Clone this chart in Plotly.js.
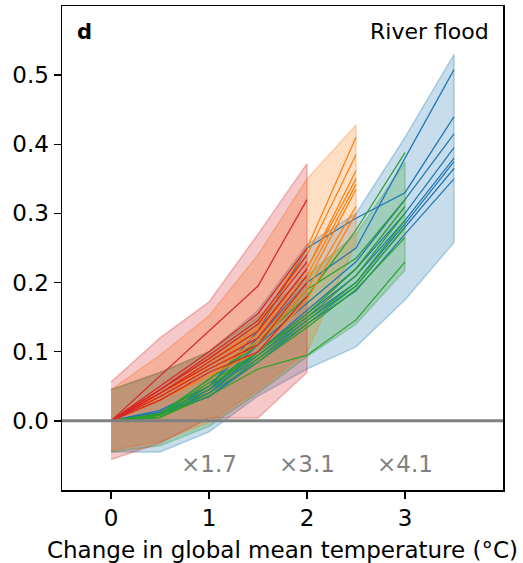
<!DOCTYPE html>
<html>
<head>
<meta charset="utf-8">
<script src="https://cdn.plot.ly/plotly-3.0.1.min.js"></script>
<style>html,body{margin:0;padding:0;background:#fff;}</style>
</head>
<body>
<div id="chart" style="width:523px;height:563px;"></div>
<script>
// ---- data ----
const xRed    = [0, 0.5, 1, 1.5, 2];
const xOrange = [0, 0.5, 1, 1.5, 2, 2.5];
const xGreen  = [0, 0.5, 1, 1.5, 2, 2.5, 3];
const xBlue   = [0, 0.5, 1, 1.5, 2, 2.5, 3, 3.5];

const redUpper    = [0.056, 0.12, 0.172, 0.27, 0.372];
const redLower    = [-0.056, -0.032, 0.004, 0.004, 0.07];
const orangeUpper = [0.045, 0.095, 0.152, 0.24, 0.35, 0.428];
const orangeLower = [-0.043, -0.03, -0.002, 0.045, 0.1, 0.258];
const greenUpper  = [0.045, 0.07, 0.1, 0.15, 0.21, 0.27, 0.374];
const greenLower  = [-0.045, -0.036, -0.008, 0.04, 0.093, 0.14, 0.218];
const blueUpper   = [0.045, 0.07, 0.1, 0.16, 0.255, 0.30, 0.41, 0.53];
const blueLower   = [-0.045, -0.045, -0.016, 0.036, 0.075, 0.107, 0.175, 0.258];

const redLines = [
  [0, 0.065, 0.13, 0.195, 0.32],
  [0, 0.05, 0.1, 0.155, 0.25],
  [0, 0.045, 0.095, 0.145, 0.24],
  [0, 0.045, 0.09, 0.14, 0.23],
  [0, 0.04, 0.085, 0.13, 0.22],
  [0, 0.04, 0.08, 0.12, 0.21],
  [0, 0.035, 0.075, 0.11, 0.2],
  [0, 0.03, 0.07, 0.1, 0.18]
];
const orangeLines = [
  [0, 0.045, 0.09, 0.14, 0.25, 0.41],
  [0, 0.04, 0.085, 0.135, 0.24, 0.385],
  [0, 0.04, 0.085, 0.13, 0.22, 0.362],
  [0, 0.04, 0.08, 0.125, 0.22, 0.35],
  [0, 0.035, 0.08, 0.12, 0.21, 0.342],
  [0, 0.035, 0.075, 0.115, 0.2, 0.335],
  [0, 0.03, 0.07, 0.11, 0.19, 0.31],
  [0, 0.03, 0.065, 0.1, 0.175, 0.3]
];
const greenLines = [
  [0, 0.01, 0.06, 0.115, 0.18, 0.276, 0.388],
  [0, 0.01, 0.06, 0.11, 0.19, 0.235, 0.32],
  [0, 0.01, 0.055, 0.1, 0.155, 0.22, 0.31],
  [0, 0.008, 0.05, 0.1, 0.15, 0.21, 0.3],
  [0, 0.008, 0.05, 0.095, 0.145, 0.2, 0.29],
  [0, 0.005, 0.045, 0.09, 0.14, 0.195, 0.28],
  [0, 0.005, 0.04, 0.085, 0.135, 0.19, 0.265],
  [0, 0.005, 0.036, 0.075, 0.095, 0.146, 0.23]
];
const blueLines = [
  [0, 0.015, 0.05, 0.12, 0.2, 0.25, 0.38, 0.508],
  [0, 0.015, 0.05, 0.13, 0.25, 0.293, 0.33, 0.44],
  [0, 0.012, 0.045, 0.11, 0.17, 0.23, 0.32, 0.415],
  [0, 0.012, 0.045, 0.1, 0.16, 0.22, 0.3, 0.395],
  [0, 0.01, 0.04, 0.1, 0.155, 0.21, 0.29, 0.38],
  [0, 0.01, 0.04, 0.095, 0.15, 0.2, 0.285, 0.375],
  [0, 0.01, 0.035, 0.09, 0.145, 0.195, 0.28, 0.365],
  [0, 0.01, 0.035, 0.085, 0.14, 0.188, 0.27, 0.35]
];

const ratioLabels = ["×1.7", "×3.1", "×4.1"];
const ratioX = [1, 2, 3];
const xTicks = [0, 1, 2, 3];
const yTicks = [0, 0.1, 0.2, 0.3, 0.4, 0.5];

// ---- build ----
const groups = [
  {x: xBlue,   up: blueUpper,   lo: blueLower,   lines: blueLines,   rgb: [31,119,180]},
  {x: xGreen,  up: greenUpper,  lo: greenLower,  lines: greenLines,  rgb: [44,160,44]},
  {x: xOrange, up: orangeUpper, lo: orangeLower, lines: orangeLines, rgb: [255,127,14]},
  {x: xRed,    up: redUpper,    lo: redLower,    lines: redLines,    rgb: [214,39,40]}
];
const rgba = (c, a) => `rgba(${c[0]},${c[1]},${c[2]},${a})`;
const traces = [];
groups.forEach(g => {
  traces.push({
    x: g.x.concat(g.x.slice().reverse()),
    y: g.up.concat(g.lo.slice().reverse()),
    type: 'scatter', mode: 'lines', fill: 'toself',
    fillcolor: rgba(g.rgb, 0.25),
    line: {color: rgba(g.rgb, 0.3), width: 1.5},
    hoverinfo: 'skip', showlegend: false
  });
});
groups.forEach(g => {
  g.lines.forEach(vals => {
    traces.push({
      x: g.x, y: vals, type: 'scatter', mode: 'lines',
      line: {color: rgba(g.rgb, 1), width: 1.25},
      hoverinfo: 'skip', showlegend: false
    });
  });
});

const FS = 23;
const font = {family: 'DejaVu Sans', size: FS, color: '#000'};
const annotations = ratioLabels.map((t, i) => ({
  x: ratioX[i], y: -0.062, xref: 'x', yref: 'y', text: t, showarrow: false,
  font: {family: 'DejaVu Sans', size: FS, color: '#808080'}
}));
annotations.push({
  x: 0.03, y: 0.946, xref: 'paper', yref: 'paper', xanchor: 'left', yanchor: 'middle',
  text: '<b>d</b>', showarrow: false, font: {family: 'DejaVu Sans', size: 21, color: '#000'}
});
annotations.push({
  x: 0.972, y: 0.948, xref: 'paper', yref: 'paper', xanchor: 'right', yanchor: 'middle',
  text: 'River flood', showarrow: false, font: {family: 'DejaVu Sans', size: 22, color: '#000'}
});

const layout = {
  width: 523, height: 563,
  margin: {l: 62, r: 20, t: 6, b: 73},
  paper_bgcolor: '#fff', plot_bgcolor: '#fff',
  font: font,
  showlegend: false,
  xaxis: {
    range: [-0.5, 4.0], tickvals: xTicks, ticktext: xTicks.map(String),
    ticks: 'outside', ticklen: 7, tickwidth: 1.3, tickcolor: '#000',
    showgrid: false, zeroline: false, showline: true, mirror: true,
    linecolor: '#000', linewidth: 1.5, tickfont: font,
    title: {text: 'Change in global mean temperature (°C)', font: font, standoff: 14},
    automargin: false, fixedrange: true
  },
  yaxis: {
    range: [-0.1, 0.6], tickvals: yTicks, ticktext: yTicks.map(v => v.toFixed(1)),
    ticks: 'outside', ticklen: 7, tickwidth: 1.3, tickcolor: '#000',
    showgrid: false, zeroline: false, showline: true, mirror: true,
    linecolor: '#000', linewidth: 1.5, tickfont: font,
    automargin: false, fixedrange: true
  },
  shapes: [{
    type: 'line', xref: 'paper', yref: 'y', x0: 0, x1: 1, y0: 0, y1: 0,
    line: {color: '#808080', width: 3}, layer: 'above'
  }],
  annotations: annotations
};

Plotly.newPlot('chart', traces, layout, {displayModeBar: false, staticPlot: true});
</script>
</body>
</html>
